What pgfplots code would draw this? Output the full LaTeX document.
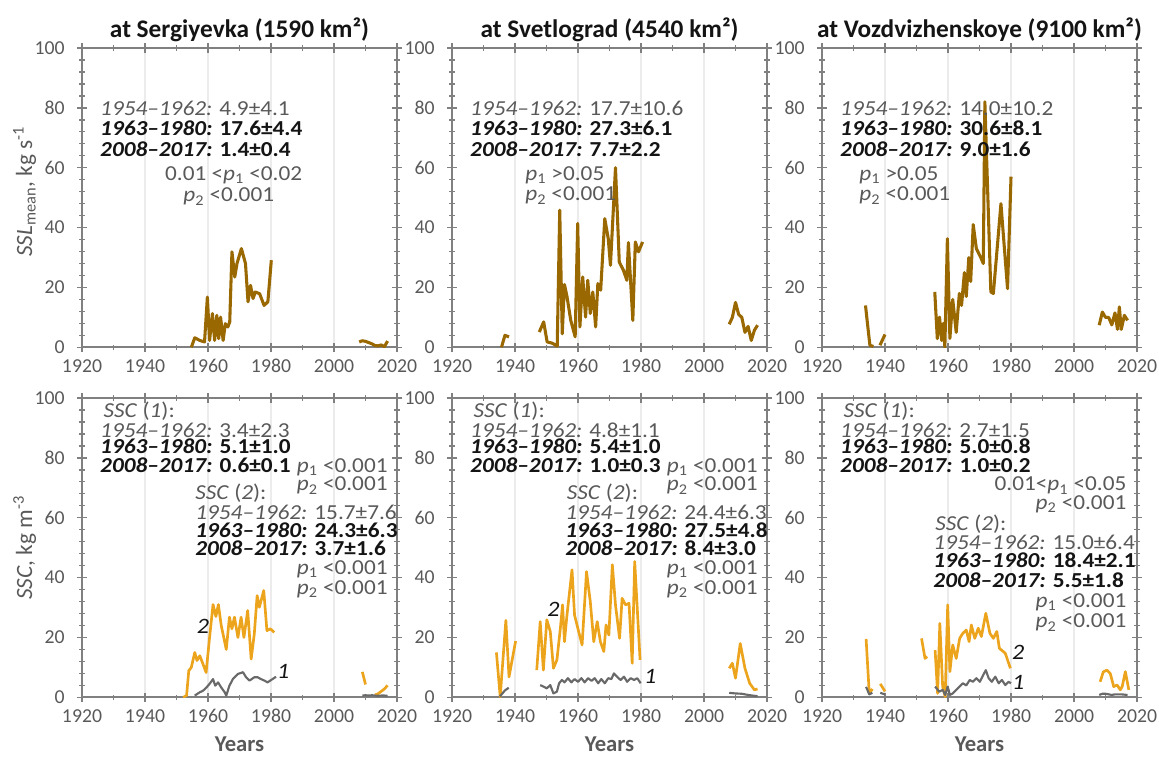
\documentclass[border=0pt]{standalone}
\usepackage{pgfplots}
\pgfplotsset{compat=1.18}
\usepackage{fontspec}
\setmainfont{Carlito}
\newfontfamily\annfont{Carlito}[FakeStretch=1.09]

\definecolor{sslc}{RGB}{153,104,0}
\definecolor{sscB}{RGB}{236,164,28}
\definecolor{sscA}{RGB}{105,105,105}
\definecolor{framec}{RGB}{128,128,128}
\definecolor{txtg}{RGB}{89,89,89}
\definecolor{txtk}{RGB}{20,20,20}

\newcommand{\pone}{\textit{p}\textsubscript{1}}
\newcommand{\ptwo}{\textit{p}\textsubscript{2}}

\pgfplotsset{
  panel/.style={
    scale only axis, width=236.25pt, height=224.5pt,
    xmin=1920, xmax=2020, ymin=0, ymax=100,
    xtick={1920,1940,...,2020}, minor x tick num=1,
    ytick={0,20,...,100}, minor y tick num=4,
    tick align=center,
    major tick length=7pt, minor tick length=4pt,
    axis line style={framec, line width=1.4pt},
    tick style={framec, line width=1pt},
    xmajorgrids, grid style={gray!15, line width=0.8pt},
    unbounded coords=jump,
    clip mode=individual,
    tick label style={font=\fontsize{14.8}{15}\selectfont, text=txtg},
    /pgf/number format/1000 sep={},
    /pgf/number format/assume math mode=true,
    yticklabel style={xshift=-6pt},
    xticklabel style={yshift=-2pt},
  },
  ssl/.style={sslc, line width=2.3pt, line join=round},
  sB/.style={sscB, line width=2pt, line join=round},
  sA/.style={sscA, line width=1.6pt, line join=round},
}
\tikzset{
  ann/.style={anchor=base west, inner sep=0pt, text height=10pt, text depth=2.5pt,
    font=\annfont\fontsize{16}{17}\selectfont, text=txtg},
  annb/.style={ann, text=txtk, font=\annfont\fontsize{16}{17}\selectfont\bfseries},
  annr/.style={ann, anchor=base east},
  ptitle/.style={anchor=base, inner sep=0pt, font=\fontsize{19}{19}\selectfont\bfseries, text=txtk},
  plab/.style={inner sep=0pt, font=\annfont\fontsize{16.5}{17}\selectfont\itshape, text=txtk},
  ylab/.style={rotate=90, inner sep=0pt, font=\fontsize{17.5}{18}\selectfont, text=txtg},
  xlab/.style={anchor=base, inner sep=0pt, font=\fontsize{17}{18}\selectfont\bfseries, text=txtg},
}

\begin{document}
\begin{tikzpicture}
\path[use as bounding box] (0,0) rectangle (869.25pt,-570pt);

% ---------- SSL, Sergiyevka ----------
\begin{axis}[panel, at={(61.5pt,-36pt)}, anchor=north west]
\addplot[ssl] coordinates {(1954.7,0) (1955.8,3.2) (1957.4,2.3) (1958.9,1.8) (1959.8,16.8) (1960.5,2.3) (1961.4,11.3) (1962.1,2.3) (1962.8,10.7) (1963.4,2.9) (1964,10.1) (1964.8,2.3) (1965.5,7.9) (1966.3,6.8) (1966.9,8.5) (1967.6,31.9) (1968.5,23.5) (1969.2,28) (1970.6,33) (1971.9,28) (1972.7,15.2) (1973.5,20.7) (1974.3,16.3) (1975,18.5) (1976.4,17.9) (1977.8,14) (1979,15.2) (1980.1,29.1) (1995,nan) (2008,1.8) (2009,2.2) (2010,2) (2011,1.6) (2012,1.2) (2013,0.6) (2014,0.5) (2015,0.8) (2016,0.2) (2017,2.1)};
\node[ptitle] at ([yshift=8.25pt]rel axis cs:0.5,1) {at Sergiyevka (1590 km²)};
\node[ylab] at ([xshift=-43pt]rel axis cs:0,0.52) {\textit{SSL}\textsubscript{mean}, kg s\textsuperscript{-1}};
\node[ann] at (axis cs:1925.7,77.6) {\textit{1954–1962:} 4.9±4.1};
\node[annb] at (axis cs:1925.7,70.9) {\textit{1963–1980:} 17.6±4.4};
\node[annb] at (axis cs:1925.7,63.6) {\textit{2008–2017:} 1.4±0.4};
\node[ann] at (axis cs:1946.3,55.9) {0.01 <\pone{} <0.02};
\node[ann] at (axis cs:1952.1,48.6) {\ptwo{} <0.001};
\end{axis}

% ---------- SSL, Svetlograd ----------
\begin{axis}[panel, at={(339pt,-36pt)}, anchor=north west]
\addplot[ssl] coordinates {(1935.7,0) (1936.8,4) (1938.1,3.5) (1942,nan) (1947.7,5.1) (1949.1,8.5) (1950.2,1.8) (1951.8,1.4) (1953.4,0.4) (1954.2,45.8) (1955,4.5) (1955.7,21) (1956.5,17) (1957.7,9) (1959.1,3.5) (1959.9,41.4) (1960.6,6.8) (1961.5,23.5) (1962.4,10.1) (1963.1,22.4) (1963.9,11.3) (1964.7,18.5) (1965.6,6.8) (1966.3,21.3) (1967.2,19.1) (1968.5,43) (1969.6,36.3) (1970.3,27.4) (1971.9,60) (1973.1,28.5) (1974.4,25.8) (1975.5,22.4) (1976,35) (1977.4,9) (1978.2,35.2) (1979.2,31.9) (1980.5,35.2) (1995,nan) (2008,7.7) (2009,10) (2010,15) (2011,11) (2012,10) (2013,5) (2014,7) (2015,2.3) (2016,5.7) (2017,7.4)};
\node[ptitle] at ([yshift=8.25pt]rel axis cs:0.5,1) {at Svetlograd (4540 km²)};
\node[ann] at (axis cs:1925.7,77.6) {\textit{1954–1962:} 17.7±10.6};
\node[annb] at (axis cs:1925.7,70.9) {\textit{1963–1980:} 27.3±6.1};
\node[annb] at (axis cs:1925.7,63.6) {\textit{2008–2017:} 7.7±2.2};
\node[ann] at (axis cs:1943.2,55.9) {\pone{} >0.05};
\node[ann] at (axis cs:1943.2,48.9) {\ptwo{} <0.001};
\end{axis}

% ---------- SSL, Vozdvizhenskoye ----------
\begin{axis}[panel, at={(616.5pt,-36pt)}, anchor=north west]
\addplot[ssl] coordinates {(1933.8,14) (1935.2,0.7) (1936.3,0.3) (1937.5,nan) (1938.4,0.7) (1940,4.3) (1948,nan) (1955.8,18.5) (1956.6,2.9) (1957.3,10.1) (1958,2.3) (1958.5,8) (1959,0.1) (1959.8,36.3) (1960.6,3) (1961.5,16) (1962.6,5) (1963.6,18) (1964.3,14) (1965.2,25) (1965.8,17) (1966.6,30) (1967.2,22) (1968,41) (1969,33) (1970.4,30) (1971.2,28) (1971.7,82) (1973.6,18.5) (1974.4,18) (1976.8,48) (1978.9,19.6) (1980,57) (1995,nan) (2008,7.4) (2009,11.8) (2010,10) (2011,10) (2012,7.5) (2013,11.5) (2013.8,6) (2014.4,13.5) (2015,6) (2016,10.7) (2017,9)};
\node[ptitle] at ([yshift=8.25pt]rel axis cs:0.5,1) {at Vozdvizhenskoye (9100 km²)};
\node[ann] at (axis cs:1925.7,77.6) {\textit{1954–1962:} 14.0±10.2};
\node[annb] at (axis cs:1925.7,70.9) {\textit{1963–1980:} 30.6±8.1};
\node[annb] at (axis cs:1925.7,63.6) {\textit{2008–2017:} 9.0±1.6};
\node[ann] at (axis cs:1931.8,55.9) {\pone{} >0.05};
\node[ann] at (axis cs:1931.8,48.9) {\ptwo{} <0.001};
\end{axis}

% ---------- SSC, Sergiyevka ----------
\begin{axis}[panel, at={(61.5pt,-298.5pt)}, anchor=north west]
\addplot[sB] coordinates {(1952.1,0) (1953.2,0.6) (1953.9,8.9) (1954.7,10) (1955.8,15) (1956.5,12.3) (1957.4,13.9) (1958.2,11.7) (1959.4,8.3) (1960.5,20) (1961.6,31) (1962.5,27) (1963.3,31) (1964.2,24) (1965.8,16) (1966.8,26.8) (1967.6,22.9) (1968.4,26.8) (1969.5,20) (1970.5,26.8) (1971.4,20) (1972.6,29) (1973.7,12.8) (1974.7,21.2) (1975.6,34) (1976.3,30.1) (1977.7,35.7) (1978.7,22.3) (1979.8,22.9) (1981,21.7) (1995,nan) (2009,8.5) (2010,4.3) (2011,nan) (2013,0.8) (2014,1.2) (2015,2) (2016,2.8) (2017,4)};
\addplot[sA] coordinates {(1955.8,0.6) (1957.4,1.7) (1958.4,2.2) (1959.5,3.3) (1960.5,4.5) (1961.6,6.1) (1962.3,3.9) (1963.2,5) (1964.2,3.3) (1965.3,1.7) (1965.8,0.6) (1966.8,3.9) (1967.9,6.1) (1969.5,7.8) (1971.1,8.4) (1972.1,6.7) (1973.2,5.6) (1974.7,6.7) (1975.8,6.7) (1976.8,6.1) (1977.9,5.6) (1978.9,5) (1980.5,6.1) (1981.6,6.9) (1995,nan) (2009,0.6) (2010,0.7) (2011,0.6) (2012,0.7) (2013,0.6) (2014,0.5) (2015,0.6) (2016,0.6) (2017,0.5)};
\node[plab] at (axis cs:1958.4,23.7) {2};
\node[plab] at (axis cs:1983.9,8.8) {1};
\node[ylab] at ([xshift=-43pt]rel axis cs:0,0.5) {\textit{SSC}, kg m\textsuperscript{-3}};
\node[xlab] at ([yshift=-40.5pt]rel axis cs:0.5,0) {Years};
\node[ann] at (axis cs:1926.8,93.5) {\textit{SSC} (\textit{1}):};
\node[ann] at (axis cs:1925.7,86.9) {\textit{1954–1962:} 3.4±2.3};
\node[annb] at (axis cs:1925.7,81.3) {\textit{1963–1980:} 5.1±1.0};
\node[annb] at (axis cs:1925.7,75.2) {\textit{2008–2017:} 0.6±0.1};
\node[annr] at (axis cs:2017.1,75.2) {\pone{} <0.001};
\node[annr] at (axis cs:2017.1,69) {\ptwo{} <0.001};
\node[ann] at (axis cs:1955.9,66.2) {\textit{SSC} (\textit{2}):};
\node[ann] at (axis cs:1955.9,59.5) {\textit{1954–1962:} 15.7±7.6};
\node[annb] at (axis cs:1955.9,53.4) {\textit{1963–1980:} 24.3±6.3};
\node[annb] at (axis cs:1955.9,47.3) {\textit{2008–2017:} 3.7±1.6};
\node[annr] at (axis cs:2017.1,41.1) {\pone{} <0.001};
\node[annr] at (axis cs:2017.1,34.4) {\ptwo{} <0.001};
\end{axis}

% ---------- SSC, Svetlograd ----------
\begin{axis}[panel, at={(339pt,-298.5pt)}, anchor=north west]
\addplot[sB] coordinates {(1934.1,15) (1935.3,0.2) (1937.1,25.7) (1938.1,6.8) (1940.2,18.8) (1943,nan) (1946.9,9.1) (1948,25.3) (1949,9.1) (1950.1,25.9) (1951.2,22) (1952.2,9.7) (1953.3,12.5) (1954.4,23.1) (1955.1,30.9) (1955.7,18.6) (1956.5,27.5) (1958.1,42.6) (1958.9,27.5) (1960.2,22) (1961.3,17.5) (1962.7,42) (1963.9,32) (1965,18.6) (1966.1,25.3) (1967.1,18.6) (1968.2,15.3) (1968.9,24.2) (1969.8,20.8) (1970.9,44.3) (1971.9,30.9) (1973.2,19.7) (1974,33.1) (1975.1,30.9) (1976.2,31.4) (1977.2,11.4) (1978,45.4) (1979.7,12.5) (1995,nan) (2008,9.7) (2009,11.4) (2010,6.4) (2011.5,18) (2013,9.7) (2014.5,4.7) (2016,2.5) (2017,2.8)};
\addplot[sA] coordinates {(1935.2,0.3) (1936.8,2.3) (1938,3.2) (1943,nan) (1948,4.1) (1949,3.6) (1950.1,3) (1951.2,4.1) (1952.2,1.3) (1953.3,1.9) (1954,4.7) (1954.9,5.8) (1955.7,5) (1956.8,6.4) (1957.9,5) (1958.9,6.1) (1960,5.2) (1961.1,6.4) (1962.1,5) (1963.2,6.4) (1964.3,5.5) (1965.3,6.4) (1966.4,4.7) (1967.4,6.1) (1968.5,4.7) (1969.6,6.4) (1970.6,6.1) (1971.4,8) (1972.4,6.9) (1973.5,5.8) (1974.6,6.9) (1975.6,5.2) (1976.7,6.4) (1977.8,5.8) (1978.8,6.4) (1979.9,4.7) (1995,nan) (2008,1.5) (2010,1.3) (2012,1.2) (2014,0.8) (2016,0.5) (2017,0.4)};
\node[plab] at (axis cs:1952.2,29.4) {2};
\node[plab] at (axis cs:1982.9,7.1) {1};
\node[xlab] at ([yshift=-40.5pt]rel axis cs:0.5,0) {Years};
\node[ann] at (axis cs:1926.8,93.5) {\textit{SSC} (\textit{1}):};
\node[ann] at (axis cs:1925.7,86.9) {\textit{1954–1962:} 4.8±1.1};
\node[annb] at (axis cs:1925.7,81.3) {\textit{1963–1980:} 5.4±1.0};
\node[annb] at (axis cs:1925.7,75.2) {\textit{2008–2017:} 1.0±0.3};
\node[annr] at (axis cs:2017.1,75.2) {\pone{} <0.001};
\node[annr] at (axis cs:2017.1,69) {\ptwo{} <0.001};
\node[ann] at (axis cs:1956.4,66.2) {\textit{SSC} (\textit{2}):};
\node[ann] at (axis cs:1955.9,59.5) {\textit{1954–1962:} 24.4±6.3};
\node[annb] at (axis cs:1955.9,53.4) {\textit{1963–1980:} 27.5±4.8};
\node[annb] at (axis cs:1955.9,47.3) {\textit{2008–2017:} 8.4±3.0};
\node[annr] at (axis cs:2017.1,41.1) {\pone{} <0.001};
\node[annr] at (axis cs:2017.1,34.4) {\ptwo{} <0.001};
\end{axis}

% ---------- SSC, Vozdvizhenskoye ----------
\begin{axis}[panel, at={(616.5pt,-298.5pt)}, anchor=north west]
\addplot[sB] coordinates {(1934,19.5) (1935,1.3) (1936,2.8) (1937,nan) (1938.5,4.5) (1940,2) (1945,nan) (1951.6,19.7) (1952.7,13) (1953.4,13.6) (1954.5,nan) (1955.9,15.8) (1956.7,1.3) (1957.4,24.7) (1958.3,3.6) (1959.1,0.2) (1959.9,30.9) (1960.6,8.6) (1961.5,17.5) (1962.6,13) (1963.7,19.7) (1964.7,21.4) (1965.8,22.5) (1966.7,18.6) (1967.4,24.2) (1968.5,19.7) (1969.6,23.1) (1970.6,20.3) (1972,28.1) (1973.3,21.4) (1974.4,19.7) (1975.5,22) (1976.3,16.4) (1978.2,14.7) (1979.8,9.7) (1995,nan) (2008.3,5.2) (2009.3,8.5) (2010.4,9.1) (2011.5,8) (2012.6,3.6) (2013.7,4.1) (2014.7,2.5) (2015.3,3.6) (2016.3,8.6) (2017.4,2.5)};
\addplot[sA] coordinates {(1934,3.5) (1935,1) (1936,1.5) (1937,nan) (1938.5,1.5) (1940,1) (1945,nan) (1955.9,3.6) (1957.2,1.9) (1958.3,2.5) (1959.1,0.8) (1959.9,3.6) (1960.6,0.8) (1961.5,1.3) (1962.6,2.5) (1963.7,3.6) (1964.7,4.7) (1965.8,4) (1966.9,5.8) (1967.9,5.2) (1969,6.4) (1970.1,5.2) (1971.2,7.5) (1972,9.1) (1972.9,6.4) (1973.9,5.2) (1975,6.9) (1976.1,4.7) (1977.1,5.8) (1978.2,4.1) (1979.2,5.2) (1980,4.7) (1995,nan) (2008,0.8) (2009,1.2) (2010,1.2) (2011,1) (2012,0.8) (2013,1) (2014,1) (2015,1) (2016,0.9) (2017,0.8)};
\node[plab] at (axis cs:1982.3,14.9) {2};
\node[plab] at (axis cs:1982.3,4.9) {1};
\node[xlab] at ([yshift=-40.5pt]rel axis cs:0.5,0) {Years};
\node[ann] at (axis cs:1926.8,93.5) {\textit{SSC} (\textit{1}):};
\node[ann] at (axis cs:1925.7,86.9) {\textit{1954–1962:} 2.7±1.5};
\node[annb] at (axis cs:1925.7,81.3) {\textit{1963–1980:} 5.0±0.8};
\node[annb] at (axis cs:1925.7,75.2) {\textit{2008–2017:} 1.0±0.2};
\node[annr] at (axis cs:2016.7,69) {0.01<\pone{} <0.05};
\node[annr] at (axis cs:2016.7,62.9) {\ptwo{} <0.001};
\node[ann] at (axis cs:1955.9,55.6) {\textit{SSC} (\textit{2}):};
\node[ann] at (axis cs:1955.3,49.5) {\textit{1954–1962:} 15.0±6.4};
\node[annb] at (axis cs:1955.3,43.4) {\textit{1963–1980:} 18.4±2.1};
\node[annb] at (axis cs:1955.3,36.7) {\textit{2008–2017:} 5.5±1.8};
\node[annr] at (axis cs:2016.7,30) {\pone{} <0.001};
\node[annr] at (axis cs:2016.7,23.3) {\ptwo{} <0.001};
\end{axis}
\end{tikzpicture}
\end{document}
